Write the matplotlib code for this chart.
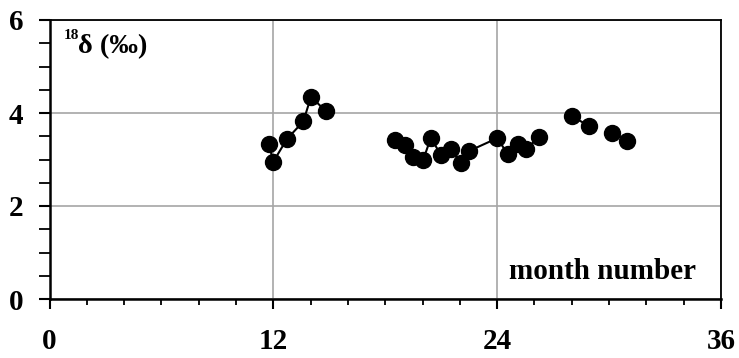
import numpy as np
import matplotlib
matplotlib.use("Agg")
import matplotlib.pyplot as plt
from matplotlib.ticker import MultipleLocator

# data: segments of connected points (month number, 18-delta in permil)
seg1_x = [11.79, 11.98, 12.73, 13.61, 14.02, 14.81]
seg1_y = [3.33, 2.94, 3.44, 3.82, 4.35, 4.04]
seg2_x = [18.53, 19.06, 19.47, 20.04, 20.44, 20.99, 21.53, 22.05, 22.48,
          24.01, 24.57, 25.10, 25.55, 26.26]
seg2_y = [3.43, 3.31, 3.05, 3.00, 3.46, 3.10, 3.22, 2.92, 3.18,
          3.46, 3.11, 3.33, 3.22, 3.49]
seg3_x = [28.00, 28.94]
seg3_y = [3.94, 3.71]
seg4_x = [30.14, 30.98]
seg4_y = [3.58, 3.40]
segments = [(seg1_x, seg1_y), (seg2_x, seg2_y), (seg3_x, seg3_y), (seg4_x, seg4_y)]

x_ticks = [0, 12, 24, 36]
y_ticks = [0, 2, 4, 6]

serif = ["Liberation Serif", "DejaVu Serif"]

fig = plt.figure(figsize=(7.39, 3.58), dpi=100)
ax = fig.add_axes([49.5 / 739, 1 - 299 / 358, (721 - 49.5) / 739, (299 - 20) / 358])

for xs, ys in segments:
    ax.plot(xs, ys, color="black", lw=1.5, marker="o", ms=11.5,
            markerfacecolor="black", markeredgecolor="black", zorder=3,
            clip_on=False)

ax.set_xlim(0, 36)
ax.set_ylim(0, 6)
ax.set_xticks(x_ticks)
ax.set_yticks(y_ticks)
ax.xaxis.set_minor_locator(MultipleLocator(2))
ax.yaxis.set_minor_locator(MultipleLocator(0.5))
ax.grid(True, which="major", color="#a6a6a6", lw=1.2, zorder=0)
ax.set_axisbelow(True)

for side in ["left", "bottom"]:
    ax.spines[side].set_linewidth(1.8)
for side in ["top", "right"]:
    ax.spines[side].set_linewidth(1.3)
for s in ax.spines.values():
    s.set_color("black")

ax.tick_params(axis="x", which="major", direction="out", length=7, width=1.5, pad=14)
ax.tick_params(axis="x", which="minor", direction="out", length=4.5, width=1.3)
ax.tick_params(axis="y", which="major", direction="out", length=8, width=1.5, pad=11)
ax.tick_params(axis="y", which="minor", direction="out", length=8, width=1.3)

for lab in ax.get_xticklabels() + ax.get_yticklabels():
    lab.set_fontfamily(serif)
    lab.set_fontweight("bold")
    lab.set_fontsize(21)

ax.text(0.021, 0.945, "18", transform=ax.transAxes,
        fontfamily=serif, fontweight="bold", fontsize=11, va="center", ha="left")
ax.text(0.043, 0.905, "δ (‰)", transform=ax.transAxes,
        fontfamily=serif, fontweight="bold", fontsize=20.5, va="center", ha="left")
ax.text(0.824, 0.097, "month number", transform=ax.transAxes,
        fontfamily=serif, fontweight="bold", fontsize=21, va="center", ha="center")

fig.savefig("out.png", dpi=100)
